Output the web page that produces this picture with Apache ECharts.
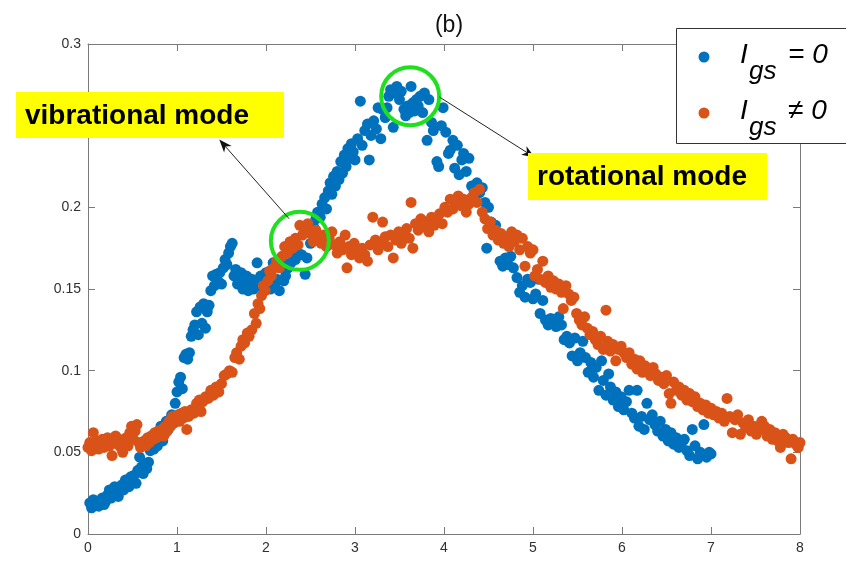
<!DOCTYPE html>
<html>
<head>
<meta charset="utf-8">
<script src="https://cdn.jsdelivr.net/npm/echarts@6.0.0/dist/echarts.min.js"></script>
<style>
  html, body { margin: 0; padding: 0; background: #ffffff; }
  #chart { width: 846px; height: 561px; }
</style>
</head>
<body>
<div id="chart"></div>
<script>
// ---- measured points, I_gs = 0 ----
const blueX = [
  0.02,0.04,0.06,0.08,0.10,0.12,0.14,0.16,0.18,0.20,0.22,0.24,0.26,0.28,0.30,0.32,0.34,0.36,0.38,0.40,0.42,0.44,0.46,0.48,0.50,
  0.52,0.54,0.56,0.58,0.60,0.62,0.64,0.66,0.68,0.70,0.72,0.74,0.76,0.78,0.80,0.82,0.84,0.86,0.88,0.90,0.92,0.94,0.96,0.98,1.00,
  1.02,1.04,1.06,1.08,1.10,1.12,1.14,1.16,1.18,1.20,1.22,1.24,1.26,1.28,1.30,1.32,1.34,1.36,1.38,1.40,1.42,1.44,1.46,1.48,1.50,1.52,1.54,1.56,1.58,1.60,1.62,
  1.64,1.66,1.68,1.70,1.72,1.74,1.76,1.78,1.80,1.82,1.84,1.86,1.88,1.90,1.92,1.94,1.96,1.98,2.00,2.02,2.05,2.08,2.10,2.12,2.15,2.18,2.20,2.22,2.25,2.28,2.30,2.33,2.36,2.40,2.44,2.46,
  2.50,2.53,2.56,2.58,2.61,2.63,2.66,2.68,2.70,2.72,2.74,2.76,2.78,2.80,2.82,2.84,2.86,2.88,2.90,2.92,2.94,2.96,2.98,3.00,
  3.03,3.06,3.08,3.11,3.14,3.16,3.18,3.21,3.24,3.26,3.29,3.31,3.34,3.36,3.38,3.40,3.43,3.45,3.47,3.50,3.52,
  3.55,3.57,3.59,3.61,3.63,3.65,3.67,3.69,3.71,3.73,3.76,3.78,3.81,3.83,3.86,3.88,
  3.92,3.94,3.97,3.99,4.02,4.05,4.07,4.10,4.12,4.15,4.17,4.20,4.22,4.25,4.28,4.31,4.34,4.37,4.40,4.43,4.46,4.48,4.50,4.53,4.55,4.58,4.61,4.63,4.66,4.69,4.72,4.75,
  4.78,4.82,4.85,4.88,4.91,4.94,4.97,5.00,5.03,5.06,5.08,5.11,5.14,5.17,5.20,5.23,5.26,5.29,5.32,5.35,5.38,5.41,5.44,5.47,5.50,5.53,5.56,
  5.59,5.62,5.65,5.68,5.71,5.74,5.77,5.79,5.82,5.85,5.87,5.90,5.93,5.96,5.99,6.02,6.05,6.08,6.11,6.14,6.17,6.19,6.22,
  6.25,6.28,6.31,6.34,6.37,6.40,6.43,6.46,6.49,6.52,6.55,6.58,6.61,6.64,6.67,6.70,6.73,6.76,6.79,6.82,6.85,6.88,6.92,6.95,6.98,7.00
];
const blueY = [
  0.019,0.016,0.021,0.018,0.020,0.017,0.019,0.022,0.018,0.020,0.024,0.027,0.022,0.025,0.029,0.026,0.023,0.028,0.030,0.027,0.033,0.031,0.029,0.035,0.033,
  0.036,0.031,0.039,0.047,0.041,0.037,0.043,0.040,0.044,0.051,0.054,0.052,0.056,0.054,0.058,0.066,0.057,0.061,0.069,0.064,0.070,0.073,0.071,0.080,0.087,
  0.093,0.096,0.089,0.108,0.110,0.107,0.111,0.121,0.125,0.128,0.136,0.122,0.139,0.129,0.141,0.126,0.136,0.140,0.149,0.158,0.152,0.159,0.155,0.160,0.153,0.163,0.168,0.165,0.172,0.176,0.178,
  0.158,0.162,0.153,0.157,0.160,0.150,0.155,0.158,0.149,0.153,0.156,0.150,0.155,0.166,0.153,0.158,0.151,0.157,0.160,0.155,0.150,0.166,0.153,0.156,0.149,0.168,0.155,0.158,0.163,0.166,0.170,0.168,0.172,0.171,0.159,0.169,
  0.178,0.189,0.193,0.197,0.194,0.202,0.206,0.199,0.210,0.215,0.208,0.219,0.213,0.222,0.217,0.228,0.221,0.232,0.225,0.236,0.230,0.239,0.234,0.229,
  0.242,0.265,0.238,0.247,0.251,0.229,0.244,0.253,0.248,0.261,0.242,0.260,0.255,0.261,0.268,0.272,0.249,0.270,0.274,0.266,0.271,
  0.260,0.256,0.262,0.258,0.274,0.264,0.259,0.266,0.262,0.268,0.258,0.270,0.241,0.266,0.252,0.247,
  0.228,0.225,0.250,0.261,0.246,0.233,0.235,0.241,0.224,0.238,0.220,0.229,0.233,0.222,0.230,0.213,0.210,0.215,0.209,0.212,0.203,0.175,0.200,0.191,0.186,0.189,0.184,0.167,0.164,0.169,0.165,0.170,
  0.163,0.157,0.148,0.152,0.145,0.156,0.154,0.144,0.147,0.156,0.135,0.143,0.131,0.128,0.132,0.130,0.127,0.133,0.128,0.119,0.121,0.117,0.109,0.120,0.106,0.111,0.118,
  0.108,0.099,0.105,0.096,0.102,0.088,0.106,0.094,0.085,0.098,0.090,0.082,0.087,0.078,0.084,0.076,0.081,0.088,0.074,0.071,0.088,0.066,0.072,
  0.064,0.080,0.070,0.073,0.067,0.063,0.069,0.060,0.064,0.057,0.062,0.055,0.059,0.053,0.056,0.058,0.051,0.048,0.064,0.054,0.046,0.050,0.067,0.047,0.050,0.049
];

// ---- measured points, I_gs != 0 ----
const orangeX = [
  0.00,0.02,0.04,0.06,0.08,0.10,0.12,0.14,0.16,0.18,0.20,0.22,0.24,0.27,0.29,0.31,0.33,0.35,0.37,0.39,0.41,0.43,0.45,0.47,0.49,0.51,0.53,0.55,0.57,0.59,
  0.61,0.63,0.65,0.67,0.69,0.71,0.73,0.75,0.77,0.79,0.81,0.83,0.85,0.87,0.89,0.91,0.93,0.95,0.97,0.99,1.01,1.03,1.05,1.07,1.09,1.11,1.13,1.16,1.19,1.22,1.25,1.27,1.29,
  1.32,1.35,1.38,1.41,1.44,1.47,1.50,1.53,1.56,1.59,1.62,1.65,1.67,1.70,1.72,1.74,1.76,1.79,1.81,1.84,1.87,1.89,1.91,1.93,1.95,1.97,1.99,2.02,2.04,2.06,2.09,2.12,2.15,2.18,
  2.21,2.24,2.27,2.30,2.33,2.36,2.38,2.41,2.44,2.47,2.50,2.53,2.56,2.59,2.62,2.65,2.68,2.71,2.74,2.77,2.80,2.83,2.86,2.89,2.91,2.93,2.96,2.99,
  3.02,3.05,3.08,3.11,3.14,3.17,3.20,3.23,3.26,3.29,3.31,3.34,3.37,3.40,3.43,3.46,3.49,3.52,3.55,3.58,3.61,3.63,3.65,3.68,3.71,3.74,3.77,3.80,
  3.83,3.86,3.89,3.92,3.95,3.98,4.01,4.04,4.07,4.10,4.13,4.16,4.19,4.22,4.25,4.28,4.31,4.34,4.37,4.40,4.43,4.46,4.49,4.52,4.55,4.58,
  4.61,4.64,4.67,4.70,4.73,4.76,4.79,4.82,4.85,4.88,4.91,4.94,4.97,5.00,5.02,5.05,5.08,5.11,5.14,5.17,5.20,5.23,5.26,5.29,5.32,5.34,5.37,5.40,5.43,5.46,5.49,5.52,
  5.55,5.58,5.61,5.64,5.67,5.70,5.73,5.76,5.79,5.82,5.84,5.87,5.90,5.93,5.96,5.99,6.02,6.05,6.08,6.11,6.14,6.17,6.20,6.23,6.26,6.29,6.32,6.35,6.38,6.41,6.44,6.47,6.50,
  6.53,6.55,6.58,6.61,6.64,6.67,6.70,6.73,6.76,6.79,6.82,6.85,6.88,6.91,6.94,6.97,7.00,7.03,7.06,7.09,7.12,7.15,7.18,7.21,7.24,
  7.27,7.30,7.33,7.36,7.39,7.42,7.45,7.48,7.51,7.54,7.57,7.60,7.63,7.66,7.69,7.72,7.75,7.78,7.81,7.84,7.87,7.90,7.92,7.95,7.98,8.00
];
const orangeY = [
  0.053,0.056,0.051,0.062,0.054,0.057,0.052,0.055,0.058,0.053,0.056,0.059,0.054,0.048,0.057,0.060,0.055,0.058,0.053,0.050,0.056,0.059,0.054,0.062,0.066,0.058,0.063,0.067,0.056,0.053,
  0.055,0.057,0.054,0.059,0.056,0.060,0.058,0.062,0.059,0.063,0.061,0.064,0.060,0.066,0.063,0.069,0.066,0.072,0.068,0.070,0.073,0.069,0.074,0.071,0.075,0.064,0.072,0.076,0.074,0.080,0.082,0.075,0.081,
  0.084,0.083,0.088,0.085,0.090,0.087,0.092,0.097,0.098,0.100,0.099,0.108,0.111,0.107,0.115,0.119,0.117,0.123,0.121,0.125,0.135,0.129,0.141,0.138,0.146,0.152,0.149,0.155,0.161,0.158,0.163,0.167,0.163,0.170,
  0.176,0.172,0.179,0.175,0.181,0.177,0.189,0.183,0.186,0.190,0.184,0.179,0.186,0.182,0.178,0.183,0.176,0.181,0.185,0.177,0.172,0.179,0.174,0.183,0.163,0.176,0.171,0.178,
  0.173,0.169,0.175,0.171,0.167,0.177,0.194,0.180,0.174,0.178,0.191,0.182,0.176,0.183,0.169,0.180,0.185,0.178,0.183,0.187,0.181,0.203,0.175,0.190,0.186,0.193,0.188,0.191,
  0.185,0.194,0.189,0.192,0.196,0.190,0.200,0.197,0.205,0.199,0.203,0.207,0.201,0.205,0.197,0.202,0.206,0.209,0.203,0.211,0.197,0.193,0.187,0.191,0.183,0.186,
  0.180,0.184,0.178,0.182,0.176,0.185,0.179,0.183,0.174,0.181,0.164,0.176,0.172,0.174,0.158,0.162,0.156,0.167,0.154,0.158,0.151,0.155,0.150,0.153,0.148,0.138,0.152,0.147,0.143,0.145,0.135,0.131,
  0.128,0.133,0.126,0.122,0.124,0.119,0.116,0.121,0.113,0.137,0.118,0.112,0.116,0.106,0.113,0.115,0.111,0.108,0.111,0.104,0.107,0.101,0.106,0.099,0.103,0.100,0.097,0.102,0.098,0.094,0.096,0.092,0.097,
  0.086,0.080,0.093,0.088,0.090,0.085,0.088,0.082,0.086,0.081,0.084,0.078,0.080,0.076,0.079,0.074,0.077,0.073,0.075,0.071,0.074,0.069,0.083,0.072,0.062,
  0.070,0.073,0.061,0.068,0.065,0.070,0.063,0.066,0.061,0.064,0.069,0.066,0.060,0.064,0.058,0.062,0.057,0.053,0.061,0.059,0.056,0.046,0.058,0.055,0.053,0.056
];

// axis ticks
const xTickLabels = ['0', '1', '2', '3', '4', '5', '6', '7', '8'];
const yTickLabels = ['0', '0.05', '0.1', '0.15', '0.2', '0.25', '0.3'];

const BLUE = '#0072BD';
const ORANGE = '#D95319';
const AXIS = '#7a7a7a';
const LABEL = '#303030';

const chart = echarts.init(document.getElementById('chart'), null, { renderer: 'canvas' });

const tickStyle = { show: true, inside: true, length: 7, lineStyle: { color: AXIS, width: 1 } };
const lineStyle = { show: true, onZero: false, lineStyle: { color: AXIS, width: 1 } };

const option = {
  animation: false,
  backgroundColor: '#ffffff',
  title: {
    text: '(b)',
    left: 444, top: 9, textAlign: 'center',
    textStyle: { fontFamily: 'Liberation Sans, Arial, sans-serif', fontSize: 23, fontWeight: 'normal', color: '#111' }
  },
  grid: { left: 88, right: 46, top: 44, bottom: 27, containLabel: false },
  xAxis: [
    {
      type: 'value', position: 'bottom', min: 0, max: 8, interval: 1,
      axisLine: lineStyle, axisTick: tickStyle, splitLine: { show: false },
      axisLabel: {
        margin: 7, color: LABEL, fontSize: 14, fontFamily: 'Liberation Sans, Arial, sans-serif',
        formatter: v => xTickLabels[Math.round(v)]
      }
    },
    {
      type: 'value', position: 'top', min: 0, max: 8, interval: 1,
      axisLine: lineStyle, axisTick: tickStyle, splitLine: { show: false }, axisLabel: { show: false }
    }
  ],
  yAxis: [
    {
      type: 'value', position: 'left', min: 0, max: 0.3, interval: 0.05,
      axisLine: lineStyle, axisTick: tickStyle, splitLine: { show: false },
      axisLabel: {
        margin: 7, color: LABEL, fontSize: 14, fontFamily: 'Liberation Sans, Arial, sans-serif',
        formatter: v => yTickLabels[Math.round(v / 0.05)]
      }
    },
    {
      type: 'value', position: 'right', min: 0, max: 0.3, interval: 0.05,
      axisLine: lineStyle, axisTick: tickStyle, splitLine: { show: false }, axisLabel: { show: false }
    }
  ],
  series: [
    {
      name: 'Igs = 0', type: 'scatter', xAxisIndex: 0, yAxisIndex: 0,
      symbol: 'circle', symbolSize: 11, itemStyle: { color: BLUE, opacity: 1 },
      data: blueX.map((x, i) => [x, blueY[i]]), z: 2
    },
    {
      name: 'Igs != 0', type: 'scatter', xAxisIndex: 0, yAxisIndex: 0,
      symbol: 'circle', symbolSize: 11, itemStyle: { color: ORANGE, opacity: 1 },
      data: orangeX.map((x, i) => [x, orangeY[i]]), z: 3
    }
  ]
};

chart.setOption(option);

// ---- annotations ----
const toPx = p => chart.convertToPixel({ xAxisIndex: 0, yAxisIndex: 0 }, p);

// highlighted regions (data coordinates) and their arrows
const circleVib = [2.38, 0.1795];
const circleRot = [3.62, 0.268];
const arrowVibFrom = [2.26, 0.193];
const arrowVibTo = [1.475, 0.2415];
const arrowRotFrom = [3.95, 0.2675];
const arrowRotTo = [5.02, 0.2305];

function arrow(fromData, toData) {
  const a = toPx(fromData), b = toPx(toData);
  const dx = b[0] - a[0], dy = b[1] - a[1];
  const len = Math.hypot(dx, dy);
  const ux = dx / len, uy = dy / len;
  const nx = -uy, ny = ux;
  const L = 13, W = 5;
  const back = [b[0] - ux * L, b[1] - uy * L];
  const notch = [b[0] - ux * L * 0.72, b[1] - uy * L * 0.72];
  return [
    { type: 'line', z: 20, shape: { x1: a[0], y1: a[1], x2: notch[0], y2: notch[1] },
      style: { stroke: '#222', lineWidth: 1 } },
    { type: 'polygon', z: 20,
      shape: { points: [b, [back[0] + nx * W, back[1] + ny * W], notch, [back[0] - nx * W, back[1] - ny * W]] },
      style: { fill: '#111' } }
  ];
}

function ring(center, r) {
  const c = toPx(center);
  return { type: 'circle', z: 19, shape: { cx: c[0], cy: c[1], r: r },
    style: { fill: 'none', stroke: '#1fe01f', lineWidth: 4 } };
}

function tag(x, y, w, h, text) {
  return [
    { type: 'rect', z: 21, shape: { x: x, y: y, width: w, height: h }, style: { fill: '#ffff00' } },
    { type: 'text', z: 22, x: x + 9, y: y + h / 2 + 1,
      style: { text: text, fill: '#000', font: 'bold 28px "Liberation Sans", Arial, sans-serif',
               textAlign: 'left', textVerticalAlign: 'middle' } }
  ];
}

const legendFont = 'italic 28px "Liberation Sans", Arial, sans-serif';
const subFont = 'italic 26px "Liberation Sans", Arial, sans-serif';
function legendRow(cy, color, rhs) {
  return [
    { type: 'circle', z: 31, shape: { cx: 704, cy: cy, r: 5.5 }, style: { fill: color } },
    { type: 'text', z: 31, x: 740, y: cy - 2,
      style: { text: 'I', fill: '#000', font: legendFont, textAlign: 'left', textVerticalAlign: 'middle' } },
    { type: 'text', z: 31, x: 749, y: cy + 15,
      style: { text: 'gs', fill: '#000', font: subFont, textAlign: 'left', textVerticalAlign: 'middle' } },
    { type: 'text', z: 31, x: 788, y: cy - 2,
      style: { text: rhs, fill: '#000', font: legendFont, textAlign: 'left', textVerticalAlign: 'middle' } }
  ];
}

const graphics = [].concat(
  [ring(circleVib, 29), ring(circleRot, 29)],
  arrow(arrowVibFrom, arrowVibTo),
  arrow(arrowRotFrom, arrowRotTo),
  tag(16, 92, 268, 46, 'vibrational mode'),
  tag(528, 153, 239, 47, 'rotational mode'),
  [{ type: 'rect', z: 30, shape: { x: 676.5, y: 28.5, width: 200, height: 115 },
     style: { fill: '#ffffff', stroke: '#333', lineWidth: 1 } }],
  legendRow(57, BLUE, '= 0'),
  legendRow(113, ORANGE, '\u2260 0')
);

chart.setOption({ graphic: { elements: graphics } });
</script>
</body>
</html>
